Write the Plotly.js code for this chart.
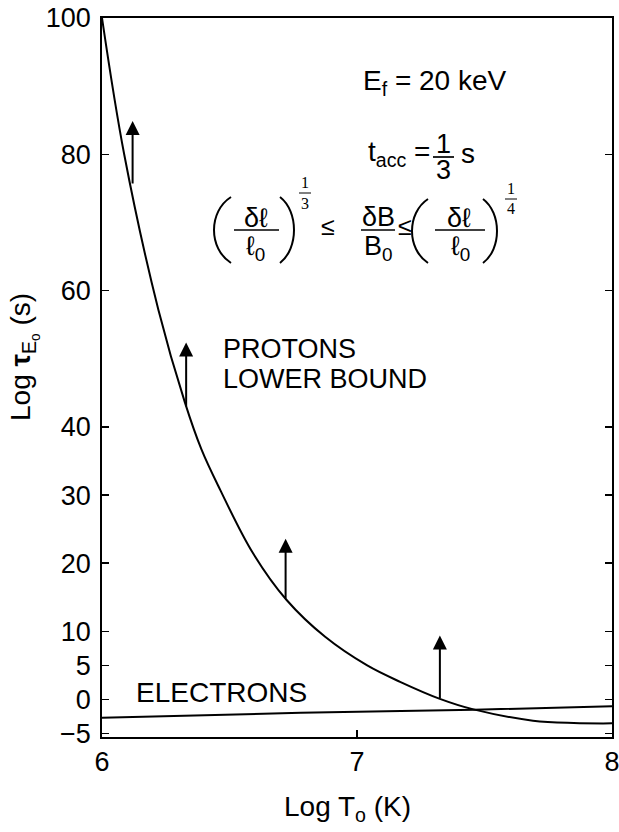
<!DOCTYPE html>
<html>
<head>
<meta charset="utf-8">
<script src="https://cdn.plot.ly/plotly-3.0.1.min.js"></script>
<style>html,body{margin:0;padding:0;background:#fff;}#chart{width:619px;height:832px;}</style>
</head>
<body>
<div id="chart"></div>
<script>
// ---- data ----
const protonLogT = [6.0, 6.087, 6.221, 6.325, 6.39, 6.463, 6.59, 6.724, 6.875, 7.04, 7.169, 7.325, 7.457, 7.69, 7.85, 8.0];
const protonLogTau = [100, 80, 57.2, 43.6, 36.7, 30.8, 21.6, 14.6, 9.2, 5.0, 2.6, 0.1, -1.45, -3.1, -3.45, -3.5];
const electronLogT = [6.0, 6.78, 7.46, 8.0];
const electronLogTau = [-2.69, -1.96, -1.5, -1.0];
// lower-bound arrows: x, start (on curve), tip
const arrowLogT = [6.12, 6.33, 6.72, 7.325];
const arrowBase = [75.5, 42.8, 14.6, 0.0];
const arrowTip = [84.9, 52.4, 23.6, 9.4];
const yTicks = [100, 80, 60, 40, 30, 20, 10, 5, 0, -5];
const xTicks = [6, 7, 8];

// ---- layout helpers (pixel -> paper) ----
const L = 102, R = 612, T = 18, B = 737;
const px = x => (x - L) / (R - L);
const py = y => (B - y) / (B - T);
const FONT = 'Liberation Sans, Arial, sans-serif';
const SERIF = 'Liberation Serif, Times New Roman, serif';

function txt(text, x, y, size, family, xanchor, angle) {
  return {text: text, xref: 'paper', yref: 'paper', x: px(x), y: py(y), showarrow: false,
    xanchor: xanchor || 'center', yanchor: 'middle', textangle: angle || 0,
    font: {family: family || FONT, size: size, color: '#000'}};
}
function bar(x0, x1, y, w) {
  return {type: 'line', xref: 'paper', yref: 'paper', x0: px(x0), x1: px(x1), y0: py(y), y1: py(y),
    line: {color: '#000', width: w || 1.7}};
}
// thin parenthesis drawn as a cubic curve: ends at xe, bulge apex at xa
function paren(xe, xa, y0, y1) {
  const c = (8 * xa - 2 * xe) / 6;
  const ya = y0 + (y1 - y0) * 0.22, yb = y0 + (y1 - y0) * 0.78;
  const P = (x, y) => px(x) + ',' + py(y);
  return {type: 'path', xref: 'paper', yref: 'paper',
    path: 'M' + P(xe, y0) + ' C' + P(c, ya) + ' ' + P(c, yb) + ' ' + P(xe, y1),
    line: {color: '#000', width: 2}};
}

const annotations = [
  txt('E<sub>f</sub> = 20 keV', 435, 83, 28),
  txt('t<sub>acc</sub> =', 432, 153, 28, FONT, 'right'),
  txt('1', 443, 144, 27),
  txt('3', 443, 170, 27),
  txt('s', 468, 153, 28),
  // (δℓ/ℓ0)^(1/3) ≤ δB/B0 ≤ (δℓ/ℓ0)^(1/4)
  txt('δℓ', 256, 218, 27),
  txt('ℓ<sub>0</sub>', 255, 248, 27),
  txt('1', 305, 183, 16, SERIF),
  txt('3', 305, 203, 16, SERIF),
  txt('≤', 328, 226, 25),
  txt('δB', 378, 217, 27),
  txt('B<sub>0</sub>', 378, 248, 27),
  txt('≤', 405, 226, 25),
  txt('δℓ', 459, 218, 27),
  txt('ℓ<sub>0</sub>', 460, 248, 27),
  txt('1', 511, 188, 16, SERIF),
  txt('4', 511, 209, 16, SERIF),
  txt('PROTONS', 221, 349, 27, FONT, 'left'),
  txt('LOWER BOUND', 221, 379, 27, FONT, 'left'),
  txt('ELECTRONS', 134, 692, 28, FONT, 'left'),
  // axis titles
  txt('Log T<sub>o</sub> (K)', 347, 808, 28),
  txt('Log <b>τ</b><sub>E<sub>o</sub></sub> (s)', 24, 357, 28, FONT, 'center', -90)
];
for (let i = 0; i < arrowLogT.length; i++) {
  annotations.push({x: arrowLogT[i], y: arrowTip[i], ax: arrowLogT[i], ay: arrowBase[i],
    xref: 'x', yref: 'y', axref: 'x', ayref: 'y', text: '', showarrow: true,
    arrowhead: 2, arrowsize: 1.4, arrowwidth: 2, arrowcolor: '#000', standoff: 0, startstandoff: 0});
}
const shapes = [
  bar(433, 454, 157),
  bar(234, 279, 230),
  bar(299, 311, 193, 1),
  bar(361, 395, 230),
  bar(435, 485, 230),
  bar(505, 517, 199, 1),
  paren(231, 214, 197, 263),
  paren(280, 294, 197, 263),
  paren(428, 412, 199, 263),
  paren(483, 497, 199, 263)
];

const traces = [
  {x: protonLogT, y: protonLogTau, mode: 'lines', line: {color: '#000', width: 2, shape: 'spline', smoothing: 1}, hoverinfo: 'skip'},
  {x: electronLogT, y: electronLogTau, mode: 'lines', line: {color: '#000', width: 2, shape: 'spline', smoothing: 0.6}, hoverinfo: 'skip'}
];

const layout = {
  width: 619, height: 832,
  margin: {l: L, r: 619 - R, t: T, b: 832 - B},
  paper_bgcolor: '#fff', plot_bgcolor: '#fff',
  showlegend: false,
  font: {family: FONT, color: '#000', size: 27},
  xaxis: {
    range: [6, 8], tickvals: xTicks, ticktext: xTicks.map(String),
    ticks: 'inside', ticklen: 7, tickwidth: 1.5, tickcolor: '#000',
    showline: true, linecolor: '#000', linewidth: 1.7, mirror: true,
    showgrid: false, zeroline: false, ticklabeloverflow: 'allow',
    tickfont: {family: FONT, size: 27, color: '#000'}
  },
  yaxis: {
    range: [-5.5, 100], tickvals: yTicks, ticktext: yTicks.map(v => v < 0 ? '\u2212' + Math.abs(v) : String(v)),
    ticks: 'inside', ticklen: 7, tickwidth: 1.5, tickcolor: '#000',
    showline: true, linecolor: '#000', linewidth: 1.7, mirror: 'ticks',
    showgrid: false, zeroline: false, ticklabelstandoff: 4, ticklabeloverflow: 'allow',
    tickfont: {family: FONT, size: 27, color: '#000'}
  },
  annotations: annotations,
  shapes: shapes
};

Plotly.newPlot('chart', traces, layout, {staticPlot: true, displayModeBar: false});
</script>
</body>
</html>
